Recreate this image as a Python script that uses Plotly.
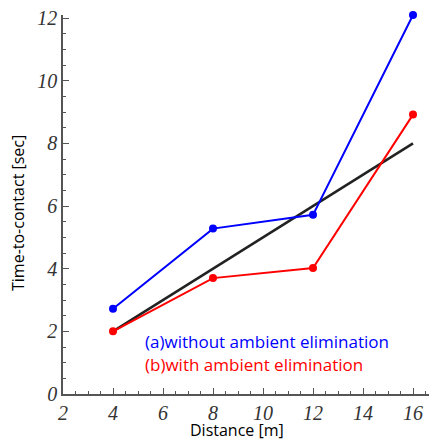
import plotly.graph_objects as go

distance = [4, 8, 12, 16]
ttc_without = [2.72, 5.28, 5.72, 12.1]
ttc_with = [2.0, 3.7, 4.02, 8.92]
ideal_x = [4, 16]
ideal_y = [2, 8]
x_ticks = [2, 4, 6, 8, 10, 12, 14, 16]
y_ticks = [0, 2, 4, 6, 8, 10, 12]

fig = go.Figure()
fig.add_trace(go.Scatter(x=ideal_x, y=ideal_y, mode="lines",
                         line=dict(color="#222222", width=2.5), showlegend=False))
fig.add_trace(go.Scatter(x=distance, y=ttc_without, mode="lines+markers", cliponaxis=False,
                         line=dict(color="#0000ff", width=2),
                         marker=dict(color="#0000ff", size=8), showlegend=False))
fig.add_trace(go.Scatter(x=distance, y=ttc_with, mode="lines+markers", cliponaxis=False,
                         line=dict(color="#ff0000", width=2),
                         marker=dict(color="#ff0000", size=8), showlegend=False))

tickfont = dict(family="Liberation Serif", size=20, color="#333333", style="italic")
fig.update_xaxes(range=[2, 16.8], tickvals=x_ticks, ticktext=[str(v) for v in x_ticks],
                 automargin=False, ticklabeloverflow="allow",
                 showgrid=False, zeroline=False, showline=True, linecolor="#555555", linewidth=1.5,
                 ticks="inside", ticklen=6, tickcolor="#555555", tickfont=tickfont,
                 minor=dict(dtick=0.5, ticks="inside", ticklen=3, tickcolor="#555555"))
fig.update_yaxes(range=[0, 12.1], tickvals=y_ticks, ticktext=[str(v) for v in y_ticks],
                 automargin=False, ticklabeloverflow="allow",
                 showgrid=False, zeroline=False, showline=True, linecolor="#555555", linewidth=1.5,
                 ticks="inside", ticklen=6, tickcolor="#555555", tickfont=tickfont,
                 minor=dict(dtick=0.5, ticks="inside", ticklen=3, tickcolor="#555555"))

# page body has an 8px default margin; figure is sized so the plot lands at the target pixels
OFF = 8
W, H = 437 - OFF, 442 - OFF
L, R, T, B = 63 - OFF, 4, 15 - OFF, 48
pw, ph = W - L - R, H - T - B

def px_to_paper(sx, sy):
    fx, fy = sx - OFF, sy - OFF
    return (fx - L) / pw, (H - fy - B) / ph

titlefont = dict(family="Open Sans", size=16, color="black")
xt = px_to_paper(237, 442)
fig.add_annotation(x=xt[0], y=xt[1], xref="paper", yref="paper", text="Distance [m]",
                   showarrow=False, font=titlefont, xanchor="center", yanchor="bottom", borderpad=0)
yt = px_to_paper(18, 213)
fig.add_annotation(x=yt[0], y=yt[1], xref="paper", yref="paper", text="Time-to-contact [sec]",
                   textangle=-90, showarrow=False, font=titlefont, xanchor="center", yanchor="middle")

fig.add_annotation(x=5.2, y=1.67, xref="x", yref="y", text="(a)without ambient elimination",
                   showarrow=False, xanchor="left", font=dict(family="Open Sans", size=17, color="#0000ff"))
fig.add_annotation(x=5.2, y=0.93, xref="x", yref="y", text="(b)with ambient elimination",
                   showarrow=False, xanchor="left", font=dict(family="Open Sans", size=17, color="#ff0000"))

fig.update_layout(width=W, height=H, margin=dict(l=L, r=R, t=T, b=B),
                  plot_bgcolor="white", paper_bgcolor="white")
fig.write_html("out.html")
